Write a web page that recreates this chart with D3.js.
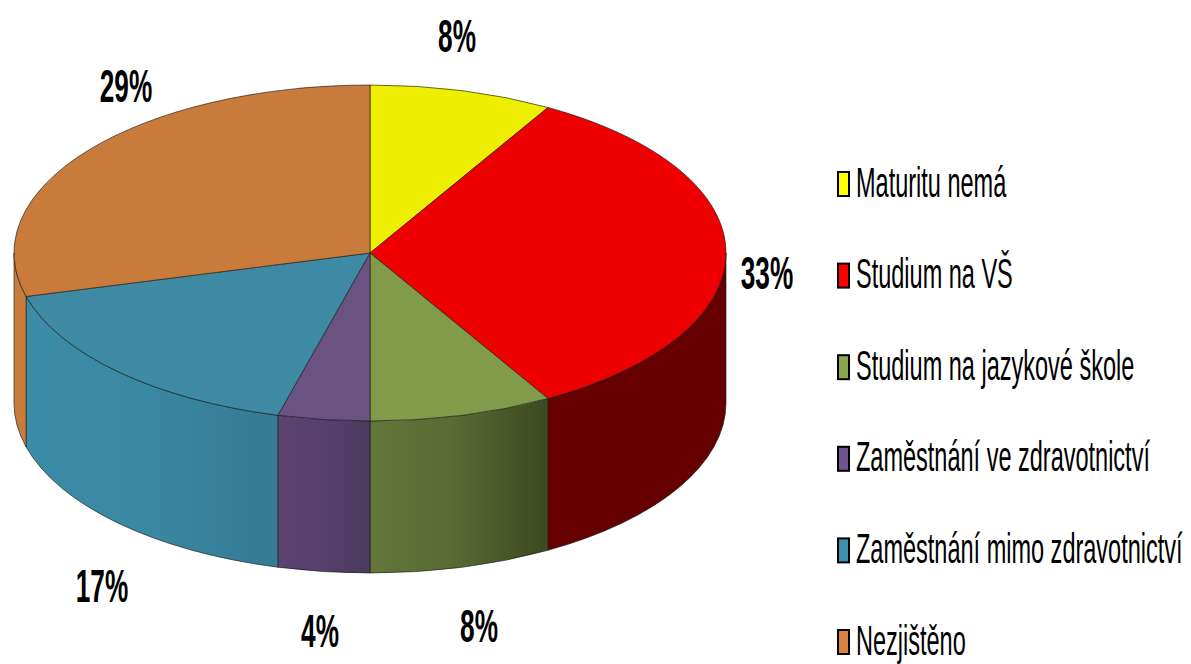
<!DOCTYPE html>
<html><head><meta charset="utf-8">
<script src="https://cdn.jsdelivr.net/npm/d3@7/dist/d3.min.js"></script>
<style>html,body{margin:0;padding:0;background:#fff;overflow:hidden}svg{display:block}text{font-family:"Liberation Sans",Arial,sans-serif;fill:#000}</style>
</head><body><svg id="c" width="1191" height="664"></svg>
<script>
const categories = ["Maturitu nemá","Studium na VŠ","Studium na jazykové škole","Zaměstnání ve zdravotnictví","Zaměstnání mimo zdravotnictví","Nezjištěno"];
const counts = [2,8,2,1,4,7];
const percentLabels = ["8%","33%","8%","4%","17%","29%"];
const topColors = ["#eeee00","#ee0000","#829b4a","#6a5283","#3e8aa5","#c97b3b"];
const swatchColors = ["#ffff00","#ff0000","#8aa650","#6f5590","#3e8fac","#d98242"];
const wallLeft = ["#eeee00","#660000","#64763a","#5c4372","#3b8ca8","#c97b3b"];
const wallRight = ["#eeee00","#660000","#3c4820","#4a3a5e","#347a92","#c97b3b"];
const labelX = [457,767,479,320,102,126];
const labelY = [52,289,642,647,602,102];

const cx=370, cy=253, rx=356, ry=168, depth=150, ryBottom=170;
const svg=d3.select("#c"), defs=svg.append("defs");
const pie=d3.pie().sort(null).value(d=>d)(counts);
const arc=d3.arc().innerRadius(0).outerRadius(rx);
const px=a=>cx+rx*Math.sin(a), py=a=>cy-ry*Math.cos(a), pyb=a=>cy+depth-ryBottom*Math.cos(a);
const H=Math.PI/2, T=3*Math.PI/2;

// side walls: the part of each slice's rim facing the viewer
pie.forEach((d,i)=>{
  const a0=Math.max(d.startAngle,H), a1=Math.min(d.endAngle,T);
  if(a1<=a0) return;
  const id="w"+i;
  const g=defs.append("linearGradient").attr("id",id).attr("gradientUnits","userSpaceOnUse")
    .attr("x1",Math.min(px(a0),px(a1))).attr("x2",Math.max(px(a0),px(a1))).attr("y1",0).attr("y2",0);
  g.append("stop").attr("offset",0).attr("stop-color",wallLeft[i]);
  g.append("stop").attr("offset",0.45).attr("stop-color",d3.interpolateRgb(wallLeft[i],wallRight[i])(0.25));
  g.append("stop").attr("offset",1).attr("stop-color",wallRight[i]);
  const s=`M${px(a0)},${py(a0)}A${rx},${ry} 0 0 1 ${px(a1)},${py(a1)}L${px(a1)},${pyb(a1)}A${rx},${ryBottom} 0 0 0 ${px(a0)},${pyb(a0)}Z`;
  svg.append("path").attr("d",s).attr("fill",`url(#${id})`).attr("stroke","#1c1c1c").attr("stroke-opacity",0.65).attr("stroke-width",1);
});

// top face
svg.append("g").attr("transform",`translate(${cx},${cy}) scale(1,${ry/rx})`)
  .selectAll("path").data(pie).join("path")
  .attr("d",arc).attr("fill",(d,i)=>topColors[i])
  .attr("stroke","#1c1c1c").attr("stroke-opacity",0.65).attr("stroke-width",1)
  .attr("vector-effect","non-scaling-stroke");

// percent labels
svg.append("g").selectAll("text").data(percentLabels).join("text")
  .attr("transform",(d,i)=>`translate(${labelX[i]},${labelY[i]}) scale(0.57,1)`)
  .attr("text-anchor","middle").attr("font-size",46).attr("font-weight","bold").text(d=>d);

// legend
const ly=d3.scaleLinear().domain([0,5]).range([184,642]);
const leg=svg.append("g").selectAll("g").data(categories).join("g")
  .attr("transform",(d,i)=>`translate(837,${ly(i)})`);
leg.append("rect").attr("x",1).attr("y",-12).attr("width",11).attr("height",24)
  .attr("fill",(d,i)=>swatchColors[i]).attr("stroke","#000").attr("stroke-width",2);
leg.append("text").attr("transform","translate(19,12.5) scale(0.56,1)").attr("font-size",42).text(d=>d);
</script></body></html>
